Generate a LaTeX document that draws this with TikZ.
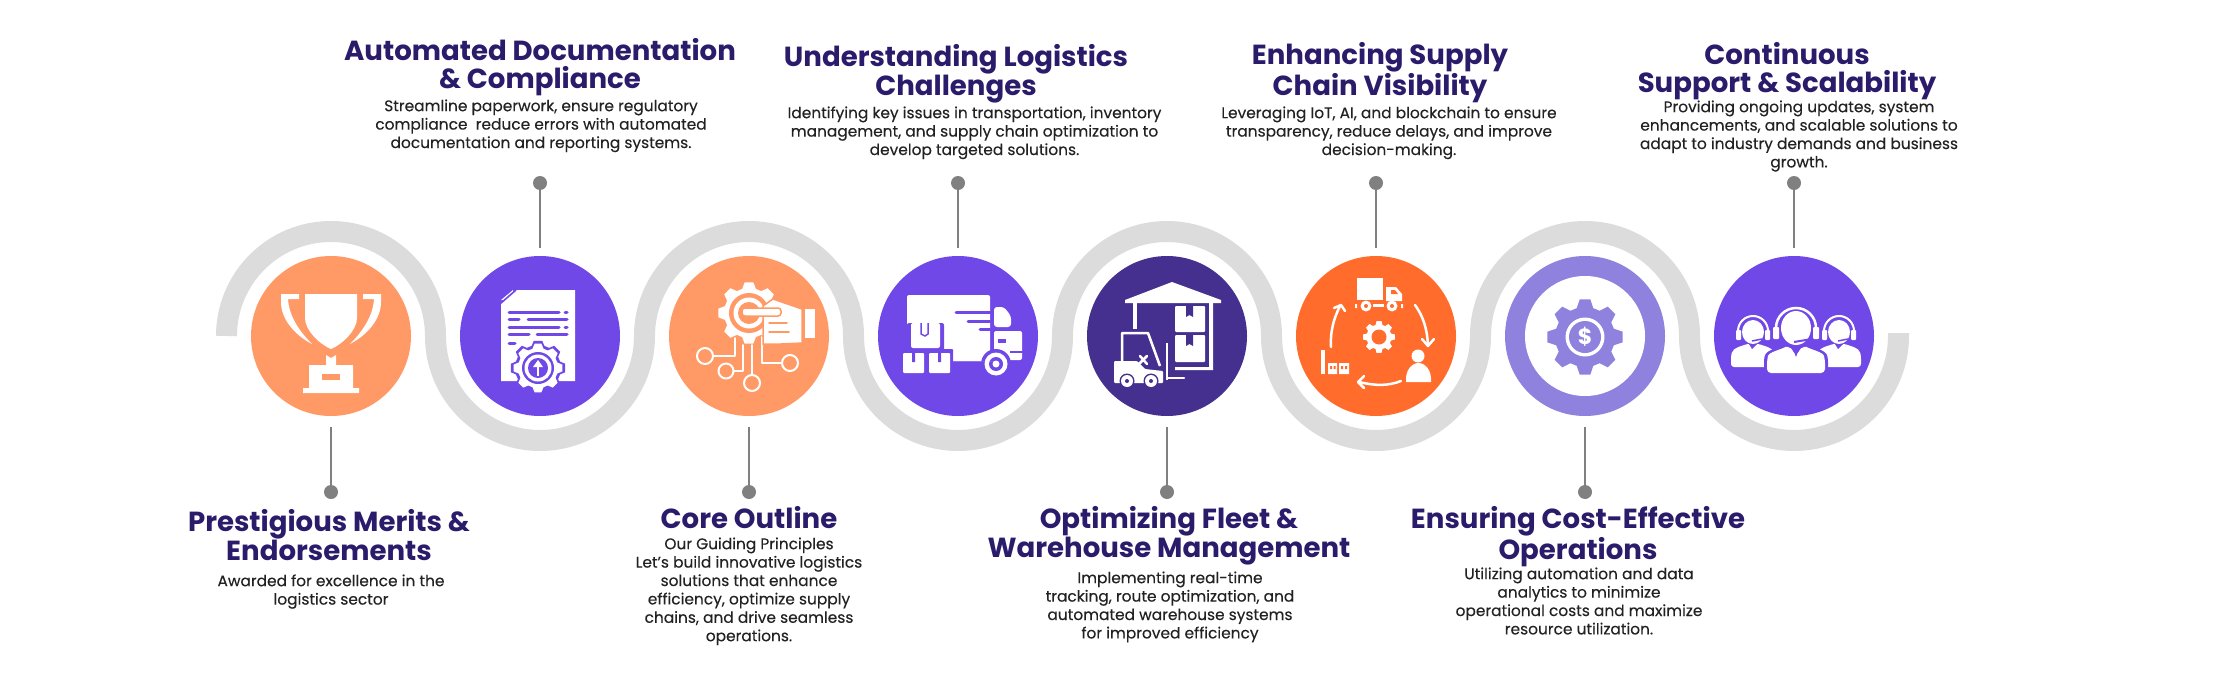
\documentclass[tikz,border=0pt]{standalone}
\usepackage{fontspec}
\setmainfont{Poppins}
\newfontfamily\bodyf[FakeBold=0.2]{Poppins}
\definecolor{bandgray}{HTML}{DCDCDC}
\definecolor{peach}{HTML}{FF9A66}
\definecolor{violet1}{HTML}{7148E8}
\definecolor{indigo1}{HTML}{46308F}
\definecolor{orange1}{HTML}{FF6C2C}
\definecolor{lilac}{HTML}{8E82DE}
\definecolor{titlec}{HTML}{2B1B6B}
\definecolor{bodyc}{HTML}{222222}
\definecolor{connc}{HTML}{808080}
\newcommand\fs{\rule{0pt}{20pt}}
\newcommand\gearat[6]{\fill[#6,shift={(#1,#2)}] (-16:#4) \foreach \i in {0,45,...,315} { -- (\i-16:#4) -- (\i-#5:#3) -- (\i+#5:#3) -- (\i+16:#4) } -- cycle;}
\tikzset{
 disc/.style={circle,minimum size=160pt,inner sep=0pt,fill=#1},
 pin/.style={circle,minimum size=14pt,inner sep=0pt,fill=connc},
 conn/.style={connc,line width=2pt},
 ttl/.style={anchor=north,inner sep=0pt,align=center,text=titlec,font=\fontsize{27.6}{28}\selectfont\bfseries},
 bdy/.style={anchor=north,inner sep=0pt,align=center,text=bodyc,font=\fontsize{15.4}{18.4}\bodyf\selectfont},
 wl/.style={white,line width=#1,line cap=round,line join=round},
 wl/.default=2pt
}
\begin{document}
\begin{tikzpicture}[x=1pt,y=1pt,yscale=-1]
\useasboundingbox (0,0) rectangle (2228,688);
\fill[white] (0,0) rectangle (2228,688);
% band
\draw[bandgray,line width=21pt] (226.5,336)
 arc[start angle=180,end angle=360,radius=104.5]
 arc[start angle=180,end angle=0,radius=104.5]
 arc[start angle=180,end angle=360,radius=104.5]
 arc[start angle=180,end angle=0,radius=104.5]
 arc[start angle=180,end angle=360,radius=104.5]
 arc[start angle=180,end angle=0,radius=104.5]
 arc[start angle=180,end angle=360,radius=104.5]
 arc[start angle=180,end angle=0,radius=104.5] -- ++(0,-3);
% discs
\node[disc=peach] (c1) at (331,336) {};
\node[disc=violet1] (c2) at (540,336) {};
\node[disc=peach] (c3) at (749,336) {};
\node[disc=violet1] (c4) at (958,336) {};
\node[disc=indigo1] (c5) at (1167,336) {};
\node[disc=orange1] (c6) at (1376,336) {};
\node[disc=lilac] (c7) at (1585,336) {};
\node[disc=violet1] (c8) at (1794,336) {};
% connectors
\foreach \n/\x in {1/331,3/749,5/1167,7/1585}{
 \node[pin] (d\n) at (\x,492) {};
 \coordinate (e\n) at (\x,427);
 \draw[conn] (d\n.center) -- (e\n);
}
\foreach \n/\x in {2/540,4/958,6/1376,8/1794}{
 \node[pin] (d\n) at (\x,183) {};
 \coordinate (e\n) at (\x,248);
 \draw[conn] (d\n.center) -- (e\n);
}
% icon 1 trophy
\begin{scope}[shift={(331,336)}]
\fill[white] (-26,-42) -- (26,-42) -- (26,-18) .. controls (26,-6) and (12,8) .. (0,13) .. controls (-12,8) and (-26,-6) .. (-26,-18) -- cycle;
\fill[white] (-50,-42) -- (-32,-42) -- (-32,-37) -- (-43,-37) .. controls (-42,-20) and (-32,-5) .. (-19,8) .. controls (-38,-2) and (-50,-18) .. (-50,-34) -- cycle;
\fill[white] (50,-42) -- (32,-42) -- (32,-37) -- (43,-37) .. controls (42,-20) and (32,-5) .. (19,8) .. controls (38,-2) and (50,-18) .. (50,-34) -- cycle;
\fill[white] (-5,19) -- (0,22) -- (5,19) -- (5,29) -- (22,29) -- (22,52) -- (28,52) -- (28,57) -- (-28,57) -- (-28,52) -- (-22,52) -- (-22,29) -- (-5,29) -- cycle;
\fill[peach] (-9,38) rectangle (9,44);
\end{scope}
% icon 2 document
\begin{scope}[shift={(540,336)}]
\fill[white] (-24,-46) -- (35,-46) -- (35,45) -- (-39,45) -- (-39,-32) -- cycle;
\fill[white] (-27,-46) -- (-39,-36) -- (-27,-36) -- cycle;
\draw[violet1,line width=1.6pt] (-39,-33) -- (-24,-46);
\foreach \y/\a/\b in {-24/-31/19,-9/-31/19}{\draw[violet1,line width=3pt,line cap=round] (\a,\y) -- (\b,\y); \draw[violet1,line width=3pt,line cap=round] (25,\y) -- (27,\y);}
\draw[violet1,line width=3pt,line cap=round] (-31,-17) -- (-21,-17) (-12,-17) -- (27,-17);
\draw[violet1,line width=3pt,line cap=round] (-31,-2) -- (-11,-2) (-3,-2) -- (27,-2);
\draw[violet1,line width=3pt,line cap=round] (-31,7) -- (-25,7);
\gearat{-2}{32}{27.5}{23}{9}{violet1}
\gearat{-2}{32}{24.5}{20}{8}{white}
\fill[violet1] (-2,32) circle (16);
\fill[white] (-2,32) circle (13.5);
\fill[violet1] (-2,32) circle (10);
\fill[white] (-2,24) -- (-7,31) -- (3,31) -- cycle;
\draw[white,line width=2.4pt] (-2,29) -- (-2,40);
\end{scope}
% icon 3 gear hand circuit
\begin{scope}[shift={(749,336)}]
\gearat{0}{-23}{31}{25}{8}{white}
\fill[peach] (0,-23) circle (20);
\fill[white] (0,-23) circle (15.5);
\fill[peach] (0,-23) circle (11);
\draw[wl=2pt] (-44,20) circle (8) (-23,35) circle (7.5) (3,47) circle (8) (41,27) circle (8);
\draw[wl=2pt] (-36,20) -- (-14,20) -- (-14,2);
\draw[wl=2pt] (-15,35) -- (-6,35) -- (-6,9);
\draw[wl=2pt] (3,39) -- (3,9);
\draw[wl=2pt] (33,27) -- (13,27) -- (13,1);
\fill[white,draw=peach,line width=1.5pt] (24,-37) -- (53,-27) -- (53,7) -- (32,8) -- (14,8) -- (14,-30) -- cycle;
\fill[white] (56,-27) rectangle (66,2);
\fill[white,draw=peach,line width=1.5pt,rounded corners=3pt] (-7,-28) rectangle (32,-20);
\draw[peach,line width=1.5pt,line cap=round] (20,-13) -- (38,-13) (20,-4) -- (40,-4);
\end{scope}
% icon 4 truck
\begin{scope}[shift={(958,336)}]
\fill[white,rounded corners=2pt] (-51,-41) -- (32,-41) -- (32,25) -- (-51,25) -- cycle;
\draw[violet1,line width=3pt,line cap=round] (-2,-24) -- (32,-24) (10,-15) -- (32,-15) (22,-7) -- (32,-7);
\fill[white,rounded corners=3pt] (36,-29) -- (46,-29) -- (53,-20) -- (53,-9) -- (36,-9) -- cycle;
\fill[white,rounded corners=2pt] (36,-5) -- (64,-5) -- (64,24) -- (36,24) -- cycle;
\fill[violet1] (40,3) rectangle (48,6.5);
\draw[violet1,line width=2pt] (52,16) -- (66,16);
\fill[violet1] (38,28) circle (15);
\fill[white] (38,28) circle (11.5);
\fill[violet1] (38,28) circle (7);
\fill[white] (38,28) circle (3.5);
\fill[violet1,rounded corners=2pt] (-51,-13) rectangle (-14,18);
\fill[white,rounded corners=2pt] (-47,-13) rectangle (-18,12);
\draw[violet1,line width=1.5pt] (-37,-13) -- (-37,-2) -- (-33,0) -- (-30,-2) -- (-30,-13);
\fill[violet1,rounded corners=1pt] (-60,13) rectangle (-5,41);
\fill[white,rounded corners=1pt] (-55,17) rectangle (-34,37);
\fill[white,rounded corners=1pt] (-29,17) rectangle (-8,37);
\fill[violet1] (-46,17) rectangle (-43,26) (-20,17) rectangle (-17,26);
\fill[white] (-5,25) rectangle (36,25);
\end{scope}
% icon 5 warehouse forklift
\begin{scope}[shift={(1167,336)}]
\fill[white] (5,-54) -- (54,-36) -- (54,-33) -- (-42,-33) -- (-42,-36) -- cycle;
\fill[white] (-34,-33) rectangle (-30,-7);
\fill[white] (42,-33) rectangle (46,34) (8,31) rectangle (46,34);
\fill[white,rounded corners=1pt] (8,-30) rectangle (38,-4);
\fill[white,rounded corners=1pt] (8,-1) rectangle (38,26);
\fill[indigo1] (19,-30) -- (19,-19) -- (22.5,-21) -- (26,-19) -- (26,-30) -- cycle;
\fill[indigo1] (19,-1) -- (19,10) -- (22.5,8) -- (26,10) -- (26,-1) -- cycle;
\draw[white,line width=2.5pt,line join=round] (-45,26) -- (-45,-3) -- (-19,-3) -- (-7,30);
\fill[white,rounded corners=1pt] (-53,25) -- (-30,25) -- (-22,33) -- (-4,35) -- (-4,47) -- (-53,47) -- cycle;
\draw[white,line width=2.5pt,line cap=round] (-27,20) -- (-20,28) (-28,28) -- (-20,20);
\draw[white,line width=2.5pt] (0,7) -- (0,44);
\draw[white,line width=2.5pt,line cap=round] (0,42) -- (17,42);
\fill[indigo1] (-40,45) circle (7.5) (-16,45) circle (7.5);
\fill[white] (-40,45) circle (6) (-16,45) circle (6);
\fill[indigo1] (-40,45) circle (2) (-16,45) circle (2);
\end{scope}
% icon 6 cycle
\begin{scope}[shift={(1376,336)}]
\fill[white] (-19,-58) rectangle (7,-36);
\fill[white] (10,-49) -- (20,-49) -- (26,-42) -- (26,-35) -- (10,-35) -- cycle;
\fill[orange1] (15,-46) -- (19,-46) -- (22,-42) -- (15,-42) -- cycle;
\fill[white] (-10,-30) circle (5.5) (16,-30) circle (5.5);
\fill[orange1] (-10,-30) circle (2) (16,-30) circle (2);
\fill[white] (-3,-32) rectangle (8,-29);
\fill[white] (-21,-32) rectangle (-19,-28) (25,-32) rectangle (27,-28);
\gearat{3}{1}{16}{12.5}{9}{white}
\fill[orange1] (3,1) circle (7.5);
\draw[wl=2.5pt] (39,-31) .. controls (47,-20) and (51,-8) .. (52,9);
\draw[wl=2.5pt] (46,3) -- (52,10) -- (58,3);
\draw[wl=2.5pt] (25,45) .. controls (12,50) and (0,50) .. (-17,46);
\draw[wl=2.5pt] (-12,40) -- (-18,46) -- (-12,52);
\draw[wl=2.5pt] (-45,11) .. controls (-46,-5) and (-42,-18) .. (-36,-30);
\draw[wl=2.5pt] (-42,-28) -- (-35,-31) -- (-31,-25);
\fill[white] (42,20) circle (6.5);
\fill[white] (30,46) .. controls (29,34) and (36,27) .. (42.5,27) .. controls (49,27) and (56,34) .. (55,46) -- cycle;
\fill[white] (-55,14) rectangle (-51,38);
\fill[white] (-48,27) rectangle (-39,38) (-37,27) rectangle (-27,38);
\fill[orange1] (-46,30) rectangle (-44,33) (-42.5,30) rectangle (-40.5,33) (-35,30) rectangle (-33,33) (-31,30) rectangle (-29,33);
\end{scope}
% icon 7 dollar gear
\fill[white] (c7.center) circle (60);
\gearat{1585}{337}{38}{30}{8}{lilac}
\fill[white] (1585,337) circle (19.5);
\fill[lilac] (1585,337) circle (16);
\node[text=white,inner sep=0pt,font=\fontsize{22}{22}\selectfont\bfseries] (dollar) at (1585,337) {\$};
% icon 8 agents
\begin{scope}[shift={(1794,336)}]
\foreach \x in {-41,45}{
 \fill[white,rounded corners=3pt] (\x-22,31) -- (\x-22,20) .. controls (\x-20,11) and (\x-10,10) .. (\x-4,7) -- (\x,12) -- (\x+4,7) .. controls (\x+10,10) and (\x+20,11) .. (\x+22,20) -- (\x+22,31) -- cycle;
 \fill[white] (\x,-4) ellipse (11 and 12);
 \draw[white,line width=2pt] (\x-15,-5) arc[start angle=180,end angle=360,radius=15];
 \fill[white,rounded corners=1pt] (\x-17,-6) rectangle (\x-12,4) (\x+12,-6) rectangle (\x+17,4);
 \draw[violet1,line width=1.5pt] (\x-1,5) -- (\x+9,3);
 \fill[violet1] (\x-1,13) -- (\x-4,8) -- (\x+4,8) -- cycle;
}
\fill[violet1,rounded corners=3pt] (-30,40) -- (-30,23) .. controls (-28,14) and (-16,12) .. (-7,6) -- (11,6) .. controls (20,12) and (32,14) .. (34,23) -- (34,40) -- cycle;
\fill[white,rounded corners=4pt] (-27,37) -- (-27,24) .. controls (-25,16) and (-14,14) .. (-5,9) -- (2,20) -- (9,9) .. controls (18,14) and (29,16) .. (31,24) -- (31,37) -- cycle;
\fill[violet1] (2,21) -- (-1,13) -- (5,13) -- cycle;
\fill[violet1] (2,-7) ellipse (18 and 20);
\fill[white] (2,-8) ellipse (15 and 17);
\draw[white,line width=2.5pt] (-18,-8) arc[start angle=180,end angle=360,radius=20];
\fill[white,rounded corners=1pt] (-21,-9) rectangle (-15,3) (19,-9) rectangle (25,3);
\draw[violet1,line width=2pt] (0,6) -- (18,3);
\end{scope}
% titles and text
\node[ttl] (t1) at (329,509) {\fs Prestigious Merits \&\\Endorsements};
\node[bdy] (b1) at (331,566) {\fs Awarded for excellence in the\\logistics sector};
\node[ttl] (t2) at (540,38.5) {\fs Automated Documentation\\\& Compliance};
\node[bdy] (b2) at (541,91) {\fs Streamline paperwork, ensure regulatory\\compliance~ reduce errors with automated\\documentation and reporting systems.};
\node[ttl] (t3) at (749,506) {\fs Core Outline};
\node[bdy] (b3) at (749,529) {\fs Our Guiding Principles\\Let’s build innovative logistics\\solutions that enhance\\efficiency, optimize supply\\chains, and drive seamless\\operations.};
\node[ttl] (t4) at (956,44) {\fs Understanding Logistics\\Challenges};
\node[bdy] (b4) at (974.5,98) {\fs Identifying key issues in transportation, inventory\\management, and supply chain optimization to\\develop targeted solutions.};
\node[ttl] (t5) at (1169,506) {\fs Optimizing Fleet \&\\Warehouse Management};
\node[bdy] (b5) at (1170,563) {\fs Implementing real-time\\tracking, route optimization, and\\automated warehouse systems\\for improved efficiency};
\node[ttl] (t6) at (1380,42) {\fs Enhancing Supply\\Chain Visibility};
\node[bdy] (b6) at (1389,98) {\fs Leveraging IoT, AI, and blockchain to ensure\\transparency, reduce delays, and improve\\decision-making.};
\node[ttl] (t7) at (1578,506) {\fs Ensuring Cost-Effective\\Operations};
\node[bdy] (b7) at (1579,559) {\fs Utilizing automation and data\\analytics to minimize\\operational costs and maximize\\resource utilization.};
\node[ttl] (t8) at (1787,42) {\fs Continuous\\Support \& Scalability};
\node[bdy] (b8) at (1799,92) {\fs Providing ongoing updates, system\\enhancements, and scalable solutions to\\adapt to industry demands and business\\growth.};
\end{tikzpicture}
\end{document}
